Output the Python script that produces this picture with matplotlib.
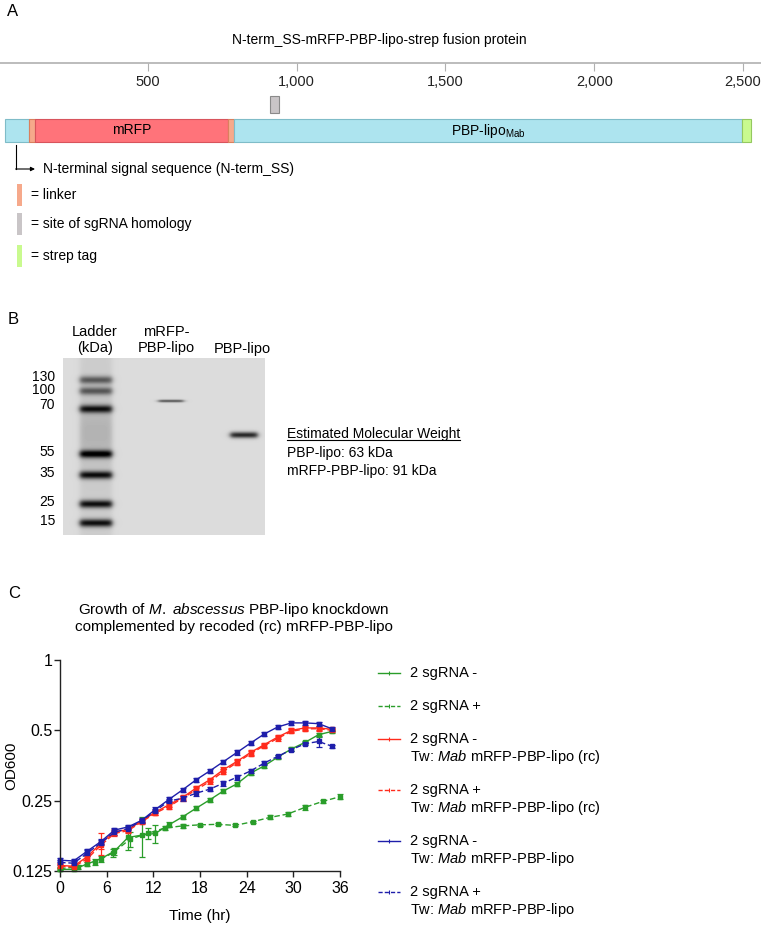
import numpy as np
import matplotlib
matplotlib.use('Agg')
import matplotlib.pyplot as plt
from matplotlib.patches import Rectangle
from matplotlib.ticker import NullLocator

plt.rcParams['font.family'] = ['Liberation Sans', 'DejaVu Sans']
plt.rcParams['mathtext.fontset'] = 'custom'
plt.rcParams['mathtext.rm'] = 'Liberation Sans'
plt.rcParams['mathtext.it'] = 'Liberation Sans:italic'

# ---------------- data ----------------
# Panel A: fusion protein map (positions in bp)
domain_names = ['N-term_SS', 'linker', 'mRFP', 'linker', 'PBP-lipo', 'strep tag']
domain_start = [19, 101, 120, 769, 788, 2497]
domain_end = [101, 120, 769, 788, 2497, 2526]
domain_colors = ['#ADE4EF', '#F6A98B', '#FF737A', '#F6A98B', '#ADE4EF', '#C9FA8F']
domain_edges = ['#7FBCC8', '#D9805E', '#D8545C', '#D9805E', '#7FBCC8', '#94C860']
sgrna_start, sgrna_end = 909, 939
ruler_ticks = [500, 1000, 1500, 2000, 2500]

# Panel B: SDS-PAGE gel (migration in px from top of gel)
ladder_kda = [130, 100, 70, 55, 35, 25, 15]
ladder_migration = [22, 33, 51, 96, 117, 146, 165]
ladder_darkness = [0.45, 0.45, 0.7, 0.8, 0.75, 0.75, 0.75]
sample_names = ['mRFP-PBP-lipo', 'PBP-lipo']
sample_migration = [43, 77]
sample_darkness = [0.5, 0.7]
sample_mw = [91, 63]

# Panel C: growth curves
time_a = [0, 1.75, 3.5, 5.25, 7, 8.75, 10.5, 12.25, 14, 15.75, 17.5,
          19.25, 21, 22.75, 24.5, 26.25, 28, 29.75, 31.5, 33.25, 35]
time_b = [0, 2.25, 4.5, 6.75, 9, 11.25, 13.5, 15.75, 18, 20.25, 22.5,
          24.75, 27, 29.25, 31.5, 33.75, 36]

od_green_minus = [0.127, 0.127, 0.134, 0.141, 0.152, 0.174, 0.178, 0.181, 0.197, 0.213, 0.232,
                  0.252, 0.275, 0.295, 0.328, 0.352, 0.384, 0.416, 0.444, 0.479, 0.495]
err_green_minus = [0.002, 0.002, 0.003, 0.004, 0.005, 0.02, 0.034, 0.016, 0.005, 0.004, 0.005,
                   0.005, 0.005, 0.005, 0.006, 0.006, 0.007, 0.007, 0.008, 0.008, 0.008]
od_green_plus = [0.128, 0.130, 0.137, 0.149, 0.171, 0.181, 0.191, 0.195, 0.197, 0.198, 0.196,
                 0.203, 0.212, 0.219, 0.234, 0.248, 0.260]
err_green_plus = [0.002, 0.003, 0.004, 0.006, 0.012, 0.01, 0.004, 0.004, 0.002, 0.002, 0.002,
                  0.002, 0.004, 0.005, 0.005, 0.003, 0.006]
od_red_minus = [0.132, 0.131, 0.144, 0.164, 0.184, 0.188, 0.205, 0.223, 0.240, 0.258, 0.283,
                0.307, 0.339, 0.368, 0.402, 0.434, 0.468, 0.500, 0.512, 0.512, 0.505]
err_red_minus = [0.003, 0.003, 0.004, 0.018, 0.005, 0.004, 0.004, 0.005, 0.006, 0.006, 0.007,
                 0.007, 0.008, 0.008, 0.009, 0.009, 0.010, 0.010, 0.010, 0.010, 0.008]
od_red_plus = [0.131, 0.130, 0.141, 0.161, 0.181, 0.186, 0.203, 0.221, 0.236, 0.256, 0.278,
               0.302, 0.333, 0.364, 0.397, 0.430, 0.462, 0.495, 0.507, 0.508, 0.500]
err_red_plus = [0.003, 0.003, 0.004, 0.006, 0.005, 0.004, 0.004, 0.005, 0.006, 0.006, 0.007,
                0.007, 0.008, 0.008, 0.009, 0.009, 0.010, 0.010, 0.010, 0.010, 0.008]
od_blue_minus = [0.139, 0.138, 0.152, 0.167, 0.187, 0.193, 0.206, 0.229, 0.253, 0.278, 0.307,
                 0.335, 0.367, 0.402, 0.441, 0.482, 0.517, 0.538, 0.538, 0.534, 0.507]
err_blue_minus = [0.003, 0.003, 0.004, 0.004, 0.004, 0.003, 0.004, 0.005, 0.005, 0.006, 0.007,
                  0.007, 0.007, 0.008, 0.009, 0.010, 0.012, 0.011, 0.011, 0.011, 0.008]
od_blue_plus = [0.136, 0.135, 0.149, 0.165, 0.183, 0.190, 0.205, 0.226, 0.249, 0.256, 0.269,
                0.280, 0.297, 0.315, 0.335, 0.362, 0.387, 0.413, 0.438, 0.448, 0.427]
err_blue_plus = [0.003, 0.003, 0.004, 0.004, 0.004, 0.003, 0.004, 0.005, 0.005, 0.006, 0.006,
                 0.006, 0.007, 0.008, 0.007, 0.007, 0.007, 0.006, 0.006, 0.022, 0.007]

legend_labels = ['2 sgRNA -', '2 sgRNA +',
                 '2 sgRNA -\nTw: $\\it{Mab}$ mRFP-PBP-lipo (rc)',
                 '2 sgRNA +\nTw: $\\it{Mab}$ mRFP-PBP-lipo (rc)',
                 '2 sgRNA -\nTw: $\\it{Mab}$ mRFP-PBP-lipo',
                 '2 sgRNA +\nTw: $\\it{Mab}$ mRFP-PBP-lipo']

GREEN, RED, BLUE = '#2A9D2A', '#FF2B1C', '#1E1EAA'

# ---------------- figure ----------------
W, H = 761, 926
fig = plt.figure(figsize=(W / 100, H / 100), dpi=100)


def px_axes(x0, y0, x1, y1):
    return fig.add_axes([x0 / W, 1 - y1 / H, (x1 - x0) / W, (y1 - y0) / H])


# overlay in pixel coordinates for labels
ov = px_axes(0, 0, W, H)
ov.set_xlim(0, W)
ov.set_ylim(H, 0)
ov.axis('off')

# ---------- Panel A ----------
axA = px_axes(0, 0, W, 280)
axA.set_xlim((0 + 0.8) / 0.2975, (W + 0.8) / 0.2975)
axA.set_ylim(280, 0)
axA.patch.set_visible(False)
for s in ['top', 'left', 'right']:
    axA.spines[s].set_visible(False)
axA.spines['bottom'].set_position(('data', 63))
axA.spines['bottom'].set_color('#B0B0B0')
axA.spines['bottom'].set_linewidth(1.2)
axA.set_yticks([])
axA.set_xticks(ruler_ticks)
axA.set_xticklabels([f'{t:,}' for t in ruler_ticks])
axA.tick_params(axis='x', length=6, width=0.8, color='#B0B0B0', pad=3, labelsize=10.5,
                labelcolor='#222222')

for name, s, e, c, ec in zip(domain_names, domain_start, domain_end, domain_colors, domain_edges):
    axA.barh(130.5, e - s, left=s, height=23, color=c, edgecolor=ec, linewidth=0.8)
axA.bar((sgrna_start + sgrna_end) / 2, 17, bottom=96, width=sgrna_end - sgrna_start,
        color='#C9C5C7', edgecolor='#8A8A8A', linewidth=0.8)
axA.text((domain_start[2] + domain_end[2]) / 2, 130.5, 'mRFP', ha='center', va='center',
         fontsize=10)
axA.text((domain_start[4] + domain_end[4]) / 2, 130.5, 'PBP-lipo$_{\\mathrm{Mab}}$',
         ha='center', va='center', fontsize=10)

ov.text(7, 12, 'A', fontsize=12, va='center')
ov.text(379, 40, 'N-term_SS-mRFP-PBP-lipo-strep fusion protein', ha='center', va='center',
        fontsize=10)
ov.plot([16, 16], [145, 169], color='black', lw=0.8)
ov.annotate('', xy=(35, 169), xytext=(15.6, 169),
            arrowprops=dict(arrowstyle='-|>', lw=0.8, color='black', mutation_scale=6,
                            shrinkA=0, shrinkB=0))
ov.text(43, 169, 'N-terminal signal sequence (N-term_SS)', va='center', fontsize=10)
for y, c, label in [(195, domain_colors[1], '= linker'),
                    (224, '#C9C5C7', '= site of sgRNA homology'),
                    (256, domain_colors[5], '= strep tag')]:
    ov.add_patch(Rectangle((16.5, y - 11), 5.5, 22, color=c, lw=0))
    ov.text(31, y, label, va='center', fontsize=10)

# ---------- Panel B ----------
gx0, gy0, gx1, gy1 = 63, 358, 265, 535
axB = px_axes(gx0, gy0, gx1, gy1)
gw, gh = gx1 - gx0, gy1 - gy0
yy, xx = np.mgrid[0:gh, 0:gw] + 0.5


def lane_mask(c, w, soft=1.5):
    return 1 / (1 + np.exp(-(xx - (c - w / 2)) / soft)) / (1 + np.exp((xx - (c + w / 2)) / soft))


img = np.full((gh, gw), 0.86)
ladder = lane_mask(33, 32)
img -= 0.06 * ladder
img -= 0.10 * ladder * np.exp(-(yy - 75) ** 2 / (2 * 22 ** 2))
for m, d in zip(ladder_migration, ladder_darkness):
    img -= d * ladder * np.exp(-(yy - m) ** 2 / (2 * 2.8 ** 2))
for c, w, m, d, s in zip([108, 181], [25, 27], sample_migration, sample_darkness, [1.0, 2.2]):
    img -= d * lane_mask(c, w) * np.exp(-(yy - m) ** 2 / (2 * s ** 2))
img = np.clip(img, 0, 1)
axB.imshow(img, cmap='gray', vmin=0, vmax=1, extent=(0, gw, gh, 0), aspect='auto',
           interpolation='bilinear')
axB.set_xlim(0, gw)
axB.set_ylim(gh, 0)
for s in axB.spines.values():
    s.set_visible(False)
axB.set_xticks([])
axB.set_yticks([])

# ladder size labels (right-aligned next to the gel)
for k, m in zip(ladder_kda, ladder_migration):
    nudge = {130: -3, 100: -1, 70: -4}.get(k, -2)
    ov.text(55, gy0 + m + nudge, str(k), ha='right', va='center', fontsize=10,
            linespacing=1.0)

ov.text(8, 320, 'B', fontsize=12, va='center')
ov.text(95, 340, 'Ladder\n(kDa)', ha='center', va='center', fontsize=10.5, linespacing=1.15)
ov.text(166, 340, 'mRFP-\nPBP-lipo', ha='center', va='center', fontsize=10.5, linespacing=1.15)
ov.text(242, 349, 'PBP-lipo', ha='center', va='center', fontsize=10.5)
t_est = ov.text(287, 434, 'Estimated Molecular Weight', va='center', fontsize=10)
ov.text(287, 453, f'{sample_names[1]}: {sample_mw[1]} kDa', va='center', fontsize=10)
ov.text(287, 471, f'{sample_names[0]}: {sample_mw[0]} kDa', va='center', fontsize=10)

# ---------- Panel C ----------
axC = px_axes(60, 660, 340, 871)
series = [
    (time_a, od_green_minus, err_green_minus, GREEN, '-'),
    (time_b, od_green_plus, err_green_plus, GREEN, '--'),
    (time_a, od_red_minus, err_red_minus, RED, '-'),
    (time_a, od_red_plus, err_red_plus, RED, '--'),
    (time_a, od_blue_minus, err_blue_minus, BLUE, '-'),
    (time_a, od_blue_plus, err_blue_plus, BLUE, '--'),
]
for t, od, err, c, ls in series:
    axC.errorbar(t, od, yerr=err, color=c, ls=ls, lw=1.0, marker='s', ms=2.2,
                 capsize=2, elinewidth=0.9, capthick=0.9, clip_on=False,
                 dashes=(4, 2) if ls == '--' else (None, None))
axC.set_yscale('log', base=2)
axC.set_ylim(0.125, 1)
axC.set_xlim(0, 36)
axC.set_yticks([0.125, 0.25, 0.5, 1])
axC.set_yticklabels(['0.125', '0.25', '0.5', '1'])
axC.yaxis.set_minor_locator(NullLocator())
axC.set_xticks([0, 6, 12, 18, 24, 30, 36])
for s in ['top', 'right']:
    axC.spines[s].set_visible(False)
for s in ['left', 'bottom']:
    axC.spines[s].set_linewidth(1.0)
    axC.spines[s].set_color('#222222')
axC.tick_params(length=4, width=1.0, labelsize=11.5, color='#222222')
axC.tick_params(axis='y', pad=1.5)
axC.set_ylabel('OD600', fontsize=11)
axC.set_xlabel('Time (hr)', fontsize=11)
axC.yaxis.set_label_coords(-(60 - 18) / 280, 0.5)
axC.xaxis.set_label_coords(0.5, -(909 - 871) / 211)
axC.patch.set_visible(False)

ov.text(8, 594, 'C', fontsize=12, va='center')
ov.text(234, 610, 'Growth of $\\it{M.\\ abscessus}$ PBP-lipo knockdown', ha='center',
        va='center', fontsize=11)
ov.text(234, 627, 'complemented by recoded (rc) mRFP-PBP-lipo', ha='center', va='center',
        fontsize=11)

# manual legend
y = 673
for (t, od, err, c, ls), label in zip(series, legend_labels):
    ov.plot([378, 400], [y, y], color=c, lw=1.0, ls=ls, dashes=(3, 1.5) if ls == '--' else (None, None))
    ov.plot([389], [y], marker='|', color=c, ms=3, mew=0.8)
    lines = label.split('\n')
    for k, ln in enumerate(lines):
        ov.text(410, y + 18 * k, ln, va='center', fontsize=10.5)
    y += 33 + 18 * (len(lines) - 1)

# underline for the MW heading
fig.canvas.draw()
bb = t_est.get_window_extent(fig.canvas.get_renderer())
inv = ov.transData.inverted()
(ux0, uy0), (ux1, _) = inv.transform([(bb.x0, bb.y0), (bb.x1, bb.y0)])
ov.plot([ux0, ux1], [uy0 - 1, uy0 - 1], color='black', lw=0.8)

fig.savefig('out.png', dpi=100)
